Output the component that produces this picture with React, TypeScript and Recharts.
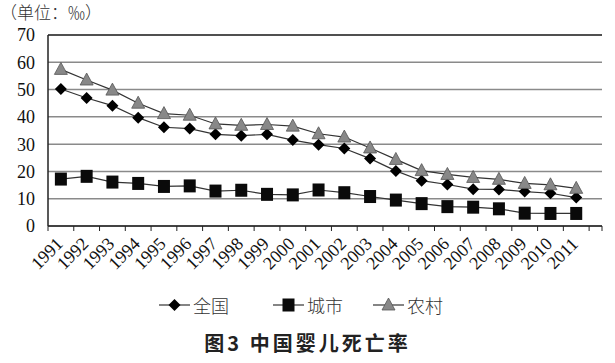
import {
  LineChart,
  Line,
  XAxis,
  YAxis,
  CartesianGrid,
  Legend,
  ReferenceLine,
} from "recharts";

const YEARS = [
  1991, 1992, 1993, 1994, 1995, 1996, 1997, 1998, 1999, 2000, 2001, 2002,
  2003, 2004, 2005, 2006, 2007, 2008, 2009, 2010, 2011,
];
const NATIONAL = [
  50.2, 46.9, 44.1, 39.7, 36.2, 35.7, 33.6, 33.1, 33.6, 31.5, 29.8, 28.4,
  24.7, 20.2, 16.6, 15.2, 13.5, 13.4, 12.6, 12.0, 10.4,
];
const URBAN = [
  17.2, 18.2, 16.1, 15.6, 14.5, 14.7, 12.8, 13.1, 11.6, 11.4, 13.2, 12.2,
  10.8, 9.5, 8.2, 7.1, 6.9, 6.3, 4.7, 4.6, 4.6,
];
const RURAL = [
  57.4, 53.5, 49.8, 45.0, 41.2, 40.6, 37.4, 36.9, 37.2, 36.6, 33.8, 32.6,
  28.6, 24.4, 20.3, 18.9, 17.8, 17.1, 15.6, 15.1, 13.8,
];
const Y_TICKS = [0, 10, 20, 30, 40, 50, 60, 70];
const SERIES = [
  { key: "national", name: "全国" },
  { key: "urban", name: "城市" },
  { key: "rural", name: "农村" },
];
const UNIT_LABEL = "（单位：‰）";
const TITLE = "图3 中国婴儿死亡率";

const data = YEARS.map((year, i) => ({
  year,
  national: NATIONAL[i],
  urban: URBAN[i],
  rural: RURAL[i],
}));

// excel style: tick marks sit between the years, labels at the centre
const lastYear = YEARS[YEARS.length - 1];
const BOUNDARY_TICKS = [
  ...YEARS.map((y) => y - 0.5),
  lastYear + 0.5,
  lastYear + 1,
];
const X_DOMAIN = [YEARS[0] - 0.5, lastYear + 1];

const SERIF = "'Liberation Serif', 'DejaVu Serif', serif";
const CJK = "'Noto Sans CJK SC', sans-serif";

/* --------- markers --------- */
function Marker({ type, cx, cy }: { type: string; cx: number; cy: number }) {
  if (type === "national") {
    return (
      <path
        d={`M${cx},${cy - 6} L${cx + 6},${cy} L${cx},${cy + 6} L${cx - 6},${cy} Z`}
        fill="#000"
      />
    );
  }
  if (type === "urban") {
    return <rect x={cx - 6} y={cy - 6.5} width={12} height={13} fill="#0a0a0a" />;
  }
  return (
    <path
      d={`M${cx},${cy - 7} L${cx + 6.5},${cy + 5} L${cx - 6.5},${cy + 5} Z`}
      fill="#888"
      stroke="#555"
      strokeWidth={0.8}
    />
  );
}

const dotFor = (type: string) => (props: any) =>
  <Marker key={`${type}-${props.index}`} type={type} cx={props.cx} cy={props.cy} />;

function YearTick({ x, y, payload }: any) {
  const ax = x + 3;
  const ay = y + 18;
  return (
    <text
      x={ax}
      y={ay}
      transform={`rotate(-45, ${ax}, ${ay})`}
      textAnchor="end"
      fontSize={18}
      fontFamily={SERIF}
      fill="#111"
    >
      {payload.value}
    </text>
  );
}

// tick marks only, no text
const NoLabel = () => <g />;

function renderLegend() {
  const gaps = [44, 30, 0];
  return (
    <div
      style={{
        display: "flex",
        justifyContent: "center",
        alignItems: "center",
        height: 24,
        fontFamily: CJK,
        fontSize: 18,
        color: "#333",
      }}
    >
      {SERIES.map((s, i) => (
        <div
          key={s.key}
          style={{ display: "flex", alignItems: "center", marginRight: gaps[i] }}
        >
          <svg width={31} height={16}>
            <line x1={0} y1={8} x2={31} y2={8} stroke="#333" strokeWidth={1.2} />
            <Marker type={s.key} cx={15.5} cy={8} />
          </svg>
          <span style={{ marginLeft: 3, fontWeight: 300 }}>{s.name}</span>
        </div>
      ))}
    </div>
  );
}

export default function App() {
  return (
    <div
      style={{
        position: "absolute",
        left: 0,
        top: 0,
        width: 615,
        height: 363,
        background: "#fff",
      }}
    >
      <div
        style={{
          position: "absolute",
          left: 0,
          top: 3,
          fontFamily: CJK,
          fontSize: 17,
          lineHeight: "17px",
          color: "#333",
          fontWeight: 300,
        }}
      >
        {UNIT_LABEL}
      </div>

      <LineChart
        width={615}
        height={363}
        data={data}
        margin={{ top: 35, right: 13, bottom: 46, left: 0 }}
      >
        <CartesianGrid
          xAxisId="b"
          vertical={false}
          stroke="#8a8a8a"
          strokeWidth={1.5}
        />
        {/* year labels */}
        <XAxis
          xAxisId="b"
          dataKey="year"
          type="number"
          domain={X_DOMAIN}
          ticks={YEARS}
          interval={0}
          axisLine={false}
          tickLine={false}
          tickSize={0}
          tickMargin={0}
          height={66}
          tick={<YearTick />}
        />
        {/* axis line + tick marks between the years */}
        <XAxis
          xAxisId="a"
          dataKey="year"
          type="number"
          domain={X_DOMAIN}
          ticks={BOUNDARY_TICKS}
          interval={0}
          tick={<NoLabel />}
          tickSize={5}
          height={1}
          axisLine={{ stroke: "#222", strokeWidth: 1.5 }}
          tickLine={{ stroke: "#222", strokeWidth: 1 }}
        />
        <YAxis
          domain={[0, 70]}
          ticks={Y_TICKS}
          interval={0}
          width={48}
          tickLine={false}
          tickSize={0}
          tickMargin={13}
          axisLine={{ stroke: "#222", strokeWidth: 1.5 }}
          tick={{ fontSize: 18, fontFamily: SERIF, fill: "#111" }}
        />
        <YAxis
          yAxisId="frame"
          orientation="right"
          domain={[0, 70]}
          width={0}
          tick={false}
          tickLine={false}
          axisLine={{ stroke: "#222", strokeWidth: 1.5 }}
        />
        <ReferenceLine xAxisId="b" y={70} stroke="#333" strokeWidth={1.5} />
        <Legend verticalAlign="bottom" height={24} content={renderLegend} />

        {SERIES.map((s) => (
          <Line
            key={s.key}
            xAxisId="b"
            dataKey={s.key}
            name={s.name}
            stroke="#333"
            strokeWidth={1.2}
            dot={dotFor(s.key)}
            activeDot={false}
            isAnimationActive={false}
          />
        ))}
      </LineChart>

      <div
        style={{
          position: "absolute",
          left: 0,
          top: 328,
          width: 615,
          textAlign: "center",
          fontFamily: CJK,
          fontSize: 20,
          fontWeight: 700,
          letterSpacing: 3,
          color: "#222",
        }}
      >
        {TITLE}
      </div>
    </div>
  );
}
